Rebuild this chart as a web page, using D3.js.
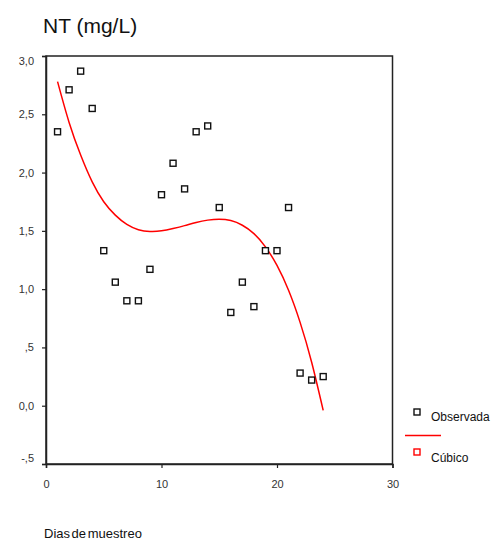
<!DOCTYPE html>
<html><head><meta charset="utf-8">
<script src="https://cdn.jsdelivr.net/npm/d3@7"></script>
<style>
html,body{margin:0;padding:0;background:#fff;}
svg{display:block;font-family:"Liberation Sans",Arial,sans-serif;}
</style></head>
<body>
<svg id="c" width="494" height="540"></svg>
<script>
const days = [1,2,3,4,5,6,7,8,9,10,11,12,13,14,15,16,17,18,19,20,21,22,23,24];
const observed = [2.35,2.71,2.87,2.55,1.33,1.06,0.90,0.90,1.17,1.81,2.08,1.86,2.35,2.40,1.70,0.80,1.06,0.85,1.33,1.33,1.70,0.28,0.22,0.25];
const cubic = [2.78,2.43,2.15,1.92,1.75,1.635,1.555,1.51,1.495,1.50,1.52,1.545,1.572,1.592,1.600,1.588,1.548,1.476,1.363,1.203,0.99,0.715,0.373,-0.04];
const xTicks = [0,10,20,30];
const yTicks = [-0.5,0,0.5,1.0,1.5,2.0,2.5,3.0];
const yTickLabels = ["-,5","0,0",",5","1,0","1,5","2,0","2,5","3,0"];
const title = "NT (mg/L)";
const xTitle = "Dias de muestreo";
const legendLabels = ["Observada","Cúbico"];

const svg = d3.select("#c");
const x = d3.scaleLinear().domain([0,30]).range([46,392.5]);
const y = d3.scaleLinear().domain([-0.5,3.0]).range([464,56]);
const ink = "#222";

// frame
svg.append("rect").attr("x",x(0)).attr("y",y(3)).attr("width",x(30)-x(0)).attr("height",y(-0.5)-y(3))
  .attr("fill","none").attr("stroke",ink).attr("stroke-width",1.5);

// y axis
const ya = svg.append("g").attr("transform",`translate(${x(0)},0)`)
  .call(d3.axisLeft(y).tickValues(yTicks).tickSize(4).tickPadding(8)
    .tickFormat((d,i)=>yTickLabels[i]));
ya.select(".domain").attr("stroke",ink).attr("stroke-width",1.5);
ya.selectAll(".tick line").attr("stroke",ink).attr("stroke-width",1.2);
ya.selectAll(".tick text").attr("font-size",11).attr("fill","#333").attr("font-family","Liberation Sans, Arial, sans-serif")
  .attr("dy",(d)=> d===3 ? "0.75em" : (d===-0.5 ? "-0.2em" : "0.32em"));

// x axis
const xa = svg.append("g").attr("transform",`translate(0,${y(-0.5)})`)
  .call(d3.axisBottom(x).tickValues(xTicks).tickSize(4).tickPadding(12).tickFormat(d3.format("d")));
xa.select(".domain").attr("stroke",ink).attr("stroke-width",1.5);
xa.selectAll(".tick line").attr("stroke",ink).attr("stroke-width",1.2);
xa.selectAll(".tick text").attr("font-size",11).attr("fill","#333").attr("font-family","Liberation Sans, Arial, sans-serif");

// cubic curve
const line = d3.line().x((d,i)=>x(days[i])).y(d=>y(d)).curve(d3.curveNatural);
svg.append("path").datum(cubic).attr("d",line).attr("fill","none").attr("stroke","#ff0000").attr("stroke-width",1.5);

// observed markers
const s = 6;
svg.append("g").selectAll("rect").data(observed).join("rect")
  .attr("x",(d,i)=>x(days[i])-s/2).attr("y",d=>y(d)-s/2).attr("width",s).attr("height",s)
  .attr("fill","#fff").attr("stroke","#111").attr("stroke-width",1.4);

// title
svg.append("text").attr("x",43).attr("y",33).attr("font-size",21).attr("fill","#111").text(title);
// x title
svg.append("text").attr("x",44).attr("y",538).attr("font-size",13).attr("fill","#111").attr("word-spacing",-2).text(xTitle);

// legend
const lg = svg.append("g");
lg.append("rect").attr("x",414).attr("y",409).attr("width",s).attr("height",s).attr("fill","#fff").attr("stroke","#111").attr("stroke-width",1.4);
lg.append("text").attr("x",431).attr("y",421).attr("font-size",12).attr("fill","#111").text(legendLabels[0]);
lg.append("line").attr("x1",405).attr("x2",441).attr("y1",435.5).attr("y2",435.5).attr("stroke","#ff0000").attr("stroke-width",1.5);
lg.append("rect").attr("x",414).attr("y",449).attr("width",s).attr("height",s).attr("fill","#fff").attr("stroke","#ff0000").attr("stroke-width",1.4);
lg.append("text").attr("x",431).attr("y",462).attr("font-size",12).attr("fill","#111").text(legendLabels[1]);
</script>
</body></html>
